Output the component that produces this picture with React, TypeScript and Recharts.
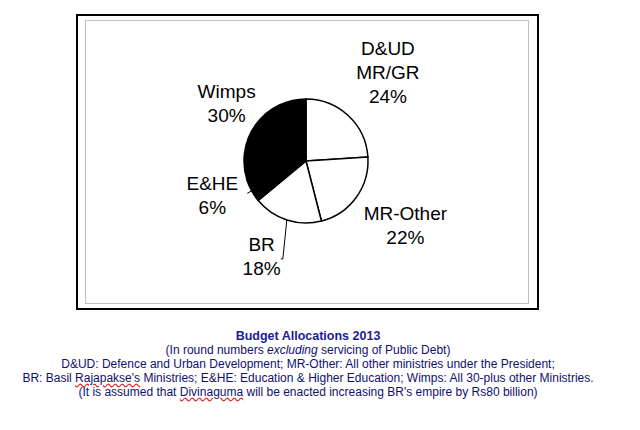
import React from "react";
import { PieChart, Pie, Cell } from "recharts";

const categories = ["D&UD MR/GR", "MR-Other", "BR", "E&HE", "Wimps"];
const labelLines = [["D&UD", "MR/GR"], ["MR-Other"], ["BR"], ["E&HE"], ["Wimps"]];
const shares = [24, 22, 18, 6, 30];
const sliceFills = ["#ffffff", "#ffffff", "#ffffff", "#000000", "#000000"];

const data = categories.map((name, i) => ({ name, value: shares[i] }));

const RAD = Math.PI / 180;
const LABEL_R_EXTRA = 46;
const LABEL_NUDGE: Record<number, [number, number]> = {
  0: [8, -10],
  1: [12, 1],
  2: [-11, -7],
  3: [1, -18],
  4: [8, 6],
};
const LINE_H = 24;

const renderLabel = (props: any) => {
  const { cx, cy, midAngle, outerRadius, index, value } = props;
  const r = outerRadius + LABEL_R_EXTRA;
  const [nx, ny] = LABEL_NUDGE[index] || [0, 0];
  const x = cx + r * Math.cos(-midAngle * RAD) + nx;
  const y = cy + r * Math.sin(-midAngle * RAD) + ny;
  const lines = [...labelLines[index], `${value}%`];
  const n = lines.length;
  return (
    <g key={`lbl-${index}`}>
      {lines.map((t, i) => (
        <text
          key={i}
          x={x}
          y={y + (i - (n - 1) / 2) * LINE_H}
          textAnchor="middle"
          dominantBaseline="central"
          fill="#000"
          fontSize={19}
          fontFamily="'Liberation Sans', Arial, sans-serif"
        >
          {t}
        </text>
      ))}
    </g>
  );
};

const renderLabelLine = (props: any) => {
  const { points, index, midAngle } = props;
  if (!points || !points[0]) return <g key={`ll-${index}`} />;
  const [p0] = points;
  if (index === 2) {
    const d = `M${p0.x},${p0.y} L${p0.x - 4},${p0.y + 39} L${p0.x - 6},${p0.y + 39}`;
    return <path key={`ll-${index}`} d={d} stroke="#000" strokeWidth={1} fill="none" />;
  }
  if (index === 3) {
    const a = -midAngle * RAD;
    const x1 = p0.x + 5 * Math.cos(a);
    const y1 = p0.y + 5 * Math.sin(a);
    return <path key={`ll-${index}`} d={`M${p0.x},${p0.y} L${x1},${y1}`} stroke="#000" strokeWidth={1} fill="none" />;
  }
  return <g key={`ll-${index}`} />;
};

const textFont = "'Liberation Sans', Arial, sans-serif";
const spell: React.CSSProperties = {
  textDecorationLine: "underline",
  textDecorationStyle: "wavy",
  textDecorationColor: "#e02020",
};

export default function App() {
  return (
    <div style={{ position: "absolute", left: 0, top: 0, width: 640, height: 430, background: "#fff", overflow: "hidden" }}>
      <div style={{ position: "absolute", left: 76, top: 14, width: 463, height: 296, border: "2px solid #000", boxSizing: "border-box" }} />
      <div style={{ position: "absolute", left: 85, top: 20, width: 444, height: 284, border: "1px solid #c0c0c0", boxSizing: "border-box" }} />
      <div style={{ position: "absolute", left: 0, top: 0 }}>
        <PieChart width={640} height={320} margin={{ top: 0, right: 0, bottom: 0, left: 0 }}>
          <Pie
            data={data}
            dataKey="value"
            nameKey="name"
            cx={306}
            cy={161}
            outerRadius={62}
            startAngle={90}
            endAngle={-270}
            stroke="#000"
            strokeWidth={1.5}
            isAnimationActive={false}
            label={renderLabel}
            labelLine={renderLabelLine}
          >
            {data.map((d, i) => (
              <Cell key={d.name} fill={sliceFills[i]} stroke="#000" />
            ))}
          </Pie>
        </PieChart>
      </div>
      <div
        style={{
          position: "absolute",
          left: 0,
          top: 329,
          width: 616,
          textAlign: "center",
          fontFamily: textFont,
          fontSize: 12,
          lineHeight: "14px",
          color: "#10106e",
        }}
      >
        <div style={{ fontWeight: "bold", fontSize: 12.5, color: "#1c1c96" }}>Budget Allocations 2013</div>
        <div>
          (In round numbers <i>excluding</i> servicing of Public Debt)
        </div>
        <div>D&amp;UD: Defence and Urban Development; MR-Other: All other ministries under the President;</div>
        <div>
          BR: Basil <span style={spell}>Rajapakse's</span> Ministries; E&amp;HE: Education &amp; Higher Education; Wimps: All 30-plus other Ministries.
        </div>
        <div>
          (It is assumed that <span style={spell}>Divinaguma</span> will be enacted increasing BR's empire by Rs80 billion)
        </div>
      </div>
    </div>
  );
}
